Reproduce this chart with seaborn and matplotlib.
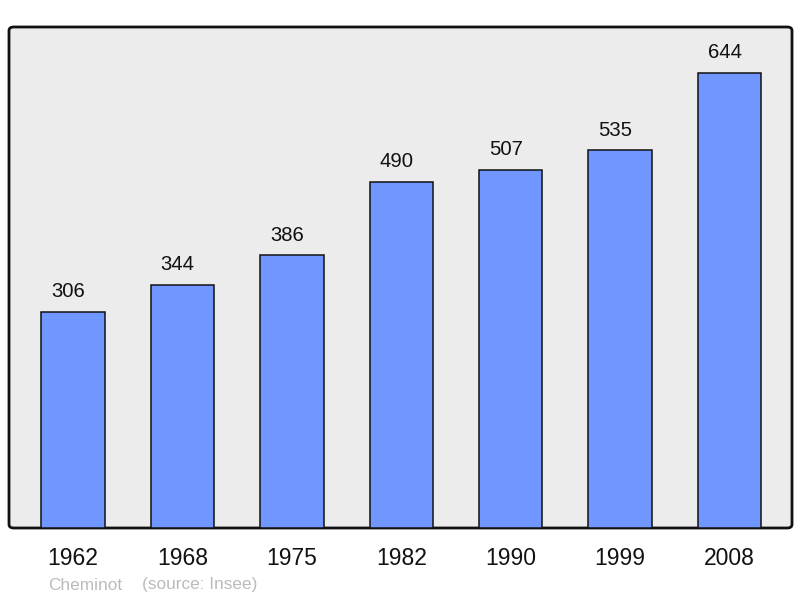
import matplotlib
matplotlib.use("Agg")
import matplotlib.pyplot as plt
import seaborn as sns
import pandas as pd
from matplotlib.patches import FancyBboxPatch

years = ["1962", "1968", "1975", "1982", "1990", "1999", "2008"]
population = [306, 344, 386, 490, 507, 535, 644]
footer_author = "Cheminot"
footer_source = "(source: Insee)"

df = pd.DataFrame({"year": years, "pop": population})

sns.set_theme(style="white")
plt.rcParams["font.family"] = ["Liberation Sans", "DejaVu Sans"]

fig = plt.figure(figsize=(8, 5.98), dpi=100)
W, H = 800, 598
ax = fig.add_axes([9 / W, (H - 528) / H, (792 - 9) / W, (528 - 27) / H])
ax.set_facecolor("none")
ax.set_zorder(1)

# background with rounded frame
bg = FancyBboxPatch((9 / W, (H - 528) / H), (792 - 9) / W, (528 - 27) / H,
                    boxstyle="round,pad=0,rounding_size=0.006",
                    transform=fig.transFigure, facecolor="#ececec",
                    edgecolor="#111111", linewidth=2, zorder=-1)
fig.patches.append(bg)

sns.barplot(data=df, x="year", y="pop", ax=ax, color="#7096ff",
            saturation=1, width=0.58, edgecolor="#111111", linewidth=1.1,
            zorder=2)

for i, v in enumerate(population):
    ax.annotate(str(v), (i, v), xytext=(-3.6, 10.4), textcoords="offset points",
                ha="center", va="baseline", fontsize=14.6, color="#111111")

ax.set_ylim(0, 709)
ax.set_xlim(-0.585, 6.571)
ax.set_xlabel("")
ax.set_ylabel("")
ax.set_yticks([])
ax.tick_params(axis="x", length=0, pad=14, labelsize=16.5, colors="#111111")
for s in ax.spines.values():
    s.set_visible(False)

fig.text(48 / W, 1 - 585 / H, footer_author, fontsize=12.4, color="#bbbbbb",
         ha="left", va="center")
fig.text(142 / W, 1 - 585 / H, footer_source, fontsize=12.4, color="#bbbbbb",
         ha="left", va="center")

fig.savefig("out.png", dpi=100)
